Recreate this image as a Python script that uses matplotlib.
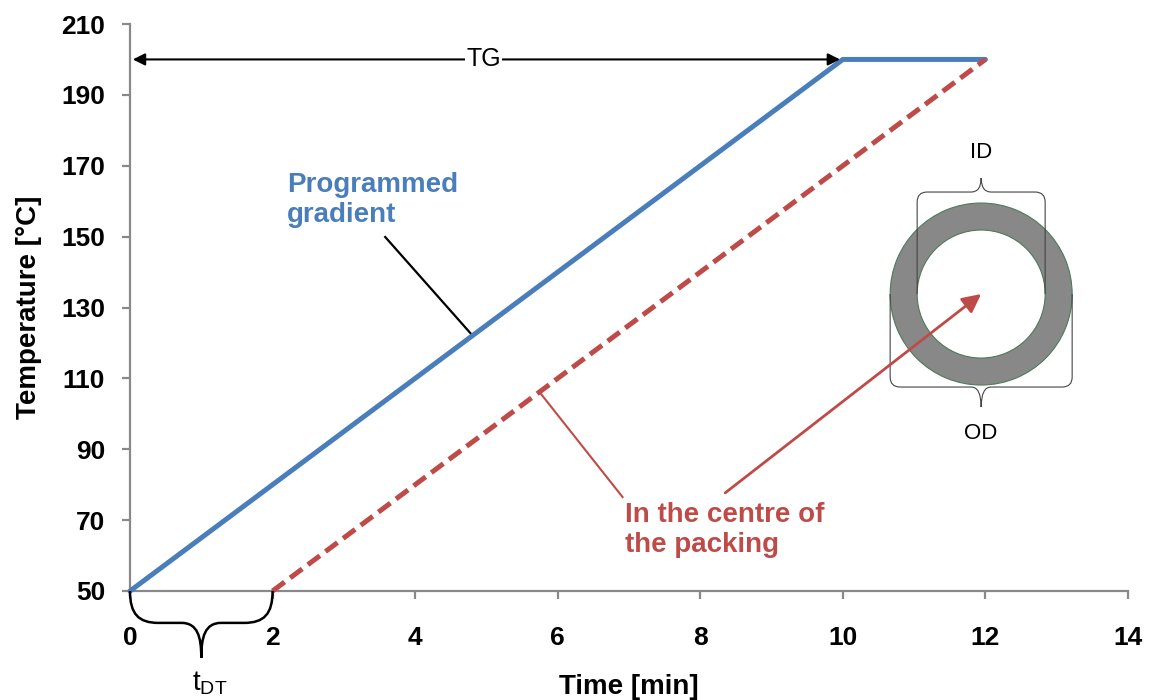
import matplotlib
matplotlib.use("Agg")
import matplotlib.pyplot as plt
import matplotlib.transforms as mtransforms
from matplotlib.patches import Annulus, PathPatch
from matplotlib.path import Path

plt.rcParams['font.family'] = ['Liberation Sans', 'DejaVu Sans']
plt.rcParams['mathtext.fontset'] = 'custom'
plt.rcParams['mathtext.rm'] = 'Liberation Sans'

# ---- data ----
prog_time = [0, 10, 12]
prog_temp = [50, 200, 200]
centre_time = [2, 12]
centre_temp = [50, 200]
x_ticks = [0, 2, 4, 6, 8, 10, 12, 14]
y_ticks = [50, 70, 90, 110, 130, 150, 170, 190, 210]

BLUE = '#4a7ebb'
RED = '#be4b48'
GRAY = '#898989'

fig = plt.figure(figsize=(11.49, 7.0), dpi=100)
ax = fig.add_axes([130/1149, 1-591/700, (1128-130)/1149, (591-24)/700])
ax.set_xlim(0, 14)
ax.set_ylim(50, 210)
ax.set_xticks(x_ticks)
ax.set_yticks(y_ticks)

for s in ['top', 'right']:
    ax.spines[s].set_visible(False)
for s in ['left', 'bottom']:
    ax.spines[s].set_color(GRAY)
    ax.spines[s].set_linewidth(1.6)
ax.tick_params(axis='both', direction='out', color=GRAY, width=1.6, length=6,
               labelsize=19)
ax.tick_params(axis='y', pad=12)
ax.tick_params(axis='x', pad=19)
for lab in ax.get_xticklabels() + ax.get_yticklabels():
    lab.set_fontweight('bold')

ax.set_xlabel('Time [min]', fontsize=20, fontweight='bold')
ax.set_ylabel('Temperature [°C]', fontsize=20, fontweight='bold')
ax.xaxis.set_label_coords(0.5, -0.146)
ax.yaxis.set_label_coords(-0.088, 0.5)

# ---- series ----
ax.plot(prog_time, prog_temp, color=BLUE, lw=3.6, solid_capstyle='round',
        solid_joinstyle='miter', clip_on=False, zorder=3)
ax.plot(centre_time, centre_temp, color=RED, lw=3.6, dashes=(3.0, 1.4),
        dash_capstyle='butt', clip_on=False, zorder=3)

# ---- TG arrow ----
ax.annotate('', xy=(0.04, 200), xytext=(9.96, 200),
            arrowprops=dict(arrowstyle='<|-|>', color='black', lw=1.5,
                            mutation_scale=18, shrinkA=0, shrinkB=0), zorder=4)
ax.text(4.96, 200, 'TG', fontsize=18, ha='center', va='center',
        bbox=dict(facecolor='white', edgecolor='none', pad=1), zorder=5)

# ---- labels and leader lines ----
ax.text(2.20, 154.1, 'Programmed\ngradient', color=BLUE, fontsize=20,
        fontweight='bold', ha='left', va='baseline', linespacing=1.2)
ax.plot([3.58, 4.80], [149.9, 122.2], color='black', lw=1.6)

ax.text(6.94, 61.0, 'In the centre of\nthe packing', color=RED, fontsize=20,
        fontweight='bold', ha='left', va='baseline', linespacing=1.2)
ax.plot([5.75, 6.91], [106.0, 76.5], color=RED, lw=1.5)

# ---- ring (column cross-section) ----
cx, cy = 11.94, 133.8
ring_tr = fig.dpi_scale_trans + mtransforms.ScaledTranslation(cx, cy, ax.transData)
ring = Annulus((0, 0), r=0.91, width=0.27, facecolor='#888888',
               edgecolor='#4d7a5c', lw=0.8, transform=ring_tr, zorder=2)
ax.add_patch(ring)

def brace(xl, xr, ys, yh, ytip, r):
    """brace path in inches around ring centre; yh = level of bar, ytip cusp"""
    sgn = 1 if yh > ys else -1
    xm = (xl + xr) / 2
    verts = [(xl, ys), (xl, yh - sgn*r), (xl, yh), (xl + r, yh),
             (xm - r, yh), (xm, yh), (xm, ytip),
             (xm, yh), (xm + r, yh),
             (xr - r, yh), (xr, yh), (xr, yh - sgn*r), (xr, ys)]
    codes = [Path.MOVETO, Path.LINETO, Path.CURVE3, Path.CURVE3,
             Path.LINETO, Path.CURVE3, Path.CURVE3,
             Path.CURVE3, Path.CURVE3,
             Path.LINETO, Path.CURVE3, Path.CURVE3, Path.LINETO]
    return Path(verts, codes)

top_br = PathPatch(brace(-0.64, 0.64, 0.0, 1.02, 1.16, 0.10), fill=False,
                   edgecolor='#444444', lw=0.8, transform=ring_tr, zorder=3)
bot_br = PathPatch(brace(-0.91, 0.91, 0.0, -0.93, -1.13, 0.10), fill=False,
                   edgecolor='#444444', lw=0.8, transform=ring_tr, zorder=3)
ax.add_patch(top_br)
ax.add_patch(bot_br)
ax.text(0, 1.42, 'ID', fontsize=16, ha='center', va='center', transform=ring_tr)
ax.text(0, -1.39, 'OD', fontsize=16, ha='center', va='center', transform=ring_tr)

# red arrow into centre of the packing
ax.annotate('', xy=(cx, cy), xytext=(8.35, 77.7),
            arrowprops=dict(arrowstyle='-|>', color=RED, lw=2,
                            mutation_scale=28, shrinkA=0, shrinkB=0), zorder=4)

# ---- t_DT brace under the axis ----
yb, yc = 41.0, 31.1
verts = [(0, 50), (0, 43.5), (0.12, yb), (0.40, yb),
         (0.72, yb),
         (0.95, yb), (1.0, 37.0), (1.0, yc),
         (1.0, 37.0), (1.05, yb), (1.28, yb),
         (1.60, yb),
         (1.88, yb), (2.0, 43.5), (2.0, 50)]
codes = [Path.MOVETO, Path.CURVE4, Path.CURVE4, Path.CURVE4,
         Path.LINETO,
         Path.CURVE4, Path.CURVE4, Path.CURVE4,
         Path.CURVE4, Path.CURVE4, Path.CURVE4,
         Path.LINETO,
         Path.CURVE4, Path.CURVE4, Path.CURVE4]
ax.add_patch(PathPatch(Path(verts, codes), fill=False, edgecolor='black',
                       lw=1.8, clip_on=False, zorder=4))
ax.text(1.12, 24.0, r'$\mathregular{t_{DT}}$', fontsize=20, ha='center',
        va='center', clip_on=False)

fig.savefig('out.png', dpi=100)
